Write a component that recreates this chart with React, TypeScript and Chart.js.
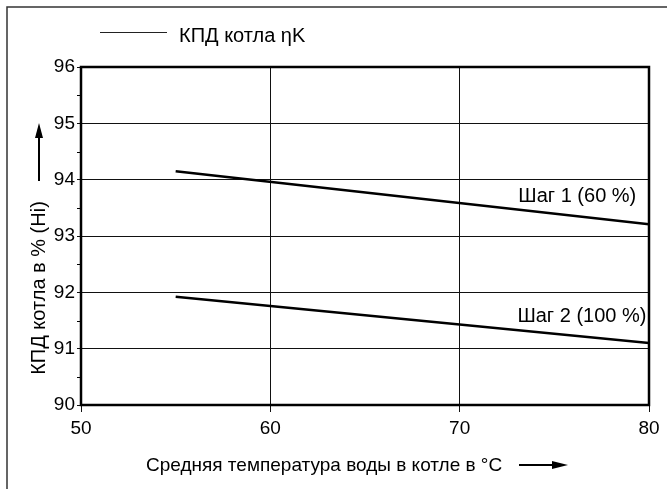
import React, { useEffect, useRef } from "react";
import { Chart, registerables } from "chart.js";

Chart.register(...registerables);

const xValues = [55, 80];
const step1 = [94.15, 93.21];
const step2 = [91.92, 91.1];
const xTicks = [50, 60, 70, 80];
const yTicks = [90, 91, 92, 93, 94, 95, 96];
const stepLabels = ["Шаг 1 (60 %)", "Шаг 2 (100 %)"];
const stepLabelX = [73.1, 73.05];
const stepLabelY = [93.71, 91.58];
const legendText = "КПД котла ηK";
const xTitle = "Средняя температура воды в котле в °C";
const yTitle = "КПД котла в % (Hi)";

const FONT = "'Liberation Sans', Arial, sans-serif";

const decorPlugin = {
  id: "decor",
  afterDraw(chart: any) {
    const ctx = chart.ctx;
    const { left, right, top, bottom } = chart.chartArea;
    const xs = chart.scales.x;
    const ys = chart.scales.y;
    ctx.save();
    // outer frame
    ctx.strokeStyle = "#333";
    ctx.lineWidth = 1.5;
    ctx.beginPath();
    ctx.moveTo(667, 7);
    ctx.lineTo(7, 7);
    ctx.lineTo(7, 489);
    ctx.stroke();
    // plot frame
    ctx.strokeStyle = "#000";
    ctx.lineWidth = 2.5;
    ctx.strokeRect(left, top, right - left, bottom - top);
    // minor y ticks
    ctx.lineWidth = 1;
    for (let i = 0; i < yTicks.length - 1; i++) {
      const v = yTicks[i] + 0.5;
      const py = Math.round(ys.getPixelForValue(v)) + 0.5;
      ctx.beginPath();
      ctx.moveTo(left - 4, py);
      ctx.lineTo(left - 1, py);
      ctx.stroke();
    }
    // legend
    ctx.strokeStyle = "#222";
    ctx.lineWidth = 1;
    ctx.beginPath();
    ctx.moveTo(100, 32.5);
    ctx.lineTo(167, 32.5);
    ctx.stroke();
    ctx.fillStyle = "#000";
    ctx.font = `20px ${FONT}`;
    ctx.textBaseline = "middle";
    ctx.textAlign = "left";
    ctx.fillText(legendText, 179, 36);
    // step labels
    for (let i = 0; i < stepLabels.length; i++) {
      ctx.fillText(
        stepLabels[i],
        xs.getPixelForValue(stepLabelX[i]),
        ys.getPixelForValue(stepLabelY[i])
      );
    }
    // x title + arrow
    ctx.font = `19px ${FONT}`;
    ctx.textAlign = "left";
    ctx.fillText(xTitle, 146, 466);
    ctx.strokeStyle = "#000";
    ctx.lineWidth = 2;
    ctx.beginPath();
    ctx.moveTo(519, 465);
    ctx.lineTo(555, 465);
    ctx.stroke();
    ctx.beginPath();
    ctx.moveTo(568, 465);
    ctx.lineTo(552, 461);
    ctx.lineTo(552, 469);
    ctx.closePath();
    ctx.fill();
    // y title + arrow
    ctx.font = `20px ${FONT}`;
    ctx.save();
    ctx.translate(39, 288);
    ctx.rotate(-Math.PI / 2);
    ctx.textAlign = "center";
    ctx.fillText(yTitle, 0, 0);
    ctx.restore();
    ctx.beginPath();
    ctx.moveTo(39, 181);
    ctx.lineTo(39, 135);
    ctx.stroke();
    ctx.beginPath();
    ctx.moveTo(39, 123);
    ctx.lineTo(35, 138);
    ctx.lineTo(43, 138);
    ctx.closePath();
    ctx.fill();
    ctx.restore();
  },
};

export default function App() {
  const ref = useRef<HTMLCanvasElement>(null);
  useEffect(() => {
    document.body.style.margin = "0";
    const chart = new Chart(ref.current as HTMLCanvasElement, {
      type: "line",
      data: {
        datasets: [
          {
            label: stepLabels[0],
            data: xValues.map((x, i) => ({ x, y: step1[i] })),
            borderColor: "#000",
            borderWidth: 2.5,
            pointRadius: 0,
            fill: false,
          },
          {
            label: stepLabels[1],
            data: xValues.map((x, i) => ({ x, y: step2[i] })),
            borderColor: "#000",
            borderWidth: 2.5,
            pointRadius: 0,
            fill: false,
          },
        ],
      },
      options: {
        animation: false,
        responsive: false,
        events: [],
        layout: { padding: { top: 67, right: 18, left: 0, bottom: 0 } },
        plugins: { legend: { display: false }, tooltip: { enabled: false } },
        scales: {
          x: {
            type: "linear",
            min: 50,
            max: 80,
            afterBuildTicks: (s: any) => {
              s.ticks = xTicks.map((v) => ({ value: v }));
            },
            afterFit: (s: any) => {
              s.height = 84;
            },
            grid: { color: "#111", lineWidth: 1, tickLength: 7, drawTicks: true },
            border: { display: false },
            ticks: {
              color: "#000",
              font: { family: FONT, size: 19 },
              padding: 5,
              maxRotation: 0,
            },
          },
          y: {
            type: "linear",
            min: 90,
            max: 96,
            afterBuildTicks: (s: any) => {
              s.ticks = yTicks.map((v) => ({ value: v }));
            },
            afterFit: (s: any) => {
              s.width = 81;
            },
            grid: { color: "#111", lineWidth: 1, tickLength: 4, drawTicks: true },
            border: { display: false },
            ticks: {
              color: "#000",
              font: { family: FONT, size: 19 },
              padding: 2,
            },
          },
        },
      },
      plugins: [decorPlugin],
    } as any);
    return () => chart.destroy();
  }, []);
  return (
    <div style={{ position: "absolute", left: 0, top: 0, width: 667, height: 489, background: "#fff" }}>
      <canvas ref={ref} width={667} height={489} style={{ display: "block", width: 667, height: 489 }} />
    </div>
  );
}
